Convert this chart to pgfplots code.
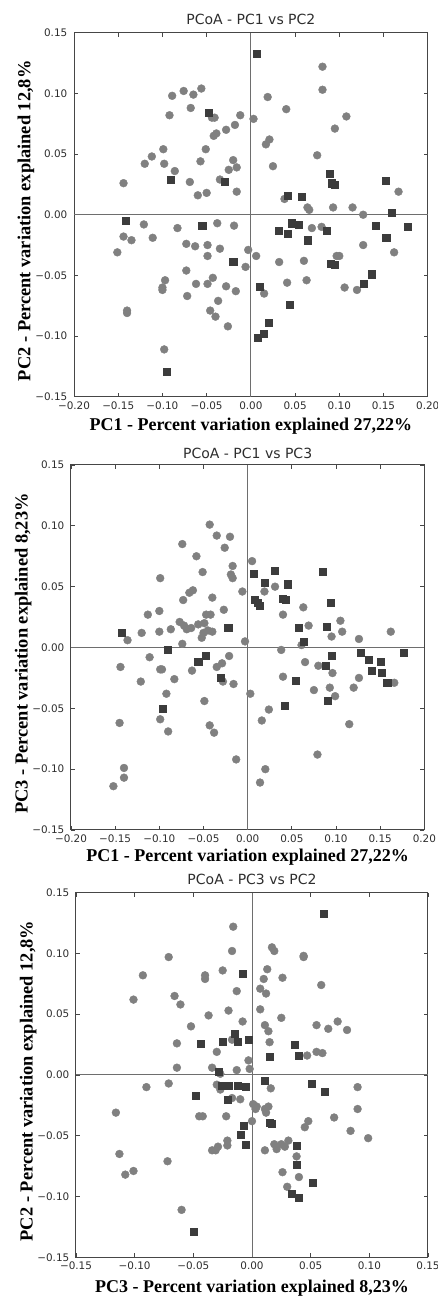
\documentclass[border=0pt]{standalone}
\usepackage{fontspec}
\setmainfont{Liberation Serif}
\newfontfamily\dejavu{DejaVu Sans}
\usepackage{pgfplots}
\usepackage{pgfplotstable}
\pgfplotsset{compat=1.18}
\definecolor{circc}{RGB}{128,128,128}
\definecolor{sqc}{RGB}{60,60,60}
\definecolor{framec}{RGB}{70,70,70}
\definecolor{zeroc}{RGB}{110,110,110}
\definecolor{tickc}{RGB}{45,45,45}

\pgfplotstableread{
x y
-0.144 0.026
-0.120 0.042
-0.112 0.048
-0.099 0.054
-0.098 0.042
-0.092 0.082
-0.089 0.098
-0.086 0.036
-0.076 0.102
-0.068 0.088
-0.069 0.027
-0.065 0.099
-0.060 0.016
-0.056 0.104
-0.057 0.044
-0.051 0.054
-0.050 0.018
-0.044 0.080
-0.041 0.080
-0.042 0.065
-0.039 0.067
-0.028 0.070
-0.035 0.029
-0.025 0.037
-0.020 0.045
-0.018 0.074
-0.016 0.039
-0.016 0.019
-0.012 0.082
0.003 0.079
0.019 0.097
0.021 0.062
0.017 0.058
0.025 0.040
0.040 0.087
0.038 0.013
0.064 0.006
0.066 0.004
0.075 0.049
0.081 0.122
0.081 0.103
0.095 0.071
0.093 0.006
0.108 0.081
0.115 0.006
0.127 0.000
0.167 0.019
-0.151 -0.031
-0.144 -0.018
-0.135 -0.021
-0.121 -0.008
-0.111 -0.019
-0.083 -0.011
-0.038 -0.007
-0.019 -0.009
-0.073 -0.024
-0.063 -0.026
-0.049 -0.025
-0.035 -0.028
-0.049 -0.034
-0.003 -0.029
0.006 -0.034
-0.006 -0.043
-0.073 -0.046
-0.097 -0.054
-0.100 -0.060
-0.100 -0.062
-0.062 -0.057
-0.049 -0.057
-0.043 -0.052
-0.028 -0.059
-0.017 -0.063
-0.072 -0.067
-0.037 -0.071
-0.046 -0.079
-0.040 -0.084
-0.026 -0.092
-0.140 -0.079
-0.140 -0.081
-0.098 -0.111
0.015 -0.065
0.032 -0.039
0.041 -0.056
0.060 -0.038
0.063 -0.054
0.069 -0.011
0.080 -0.010
0.097 -0.034
0.100 -0.034
0.106 -0.060
0.120 -0.062
0.127 -0.025
0.162 -0.031
}\pOneC

\pgfplotstableread{
x y
-0.091 0.029
-0.048 0.084
-0.030 0.027
0.007 0.133
0.042 0.016
0.058 0.015
0.089 0.034
0.091 0.026
0.095 0.025
0.152 0.028
0.159 0.002
-0.142 -0.005
-0.055 -0.009
-0.020 -0.039
-0.095 -0.129
0.010 -0.059
0.020 -0.089
0.014 -0.098
0.008 -0.101
0.031 -0.013
0.042 -0.016
0.044 -0.074
0.046 -0.007
0.054 -0.008
0.064 -0.021
0.086 -0.013
0.090 -0.040
0.095 -0.041
0.128 -0.057
0.137 -0.049
0.141 -0.009
0.153 -0.019
0.177 -0.010
}\pOneS

\pgfplotstableread{
x y
-0.136 0.006
-0.120 0.012
-0.113 0.027
-0.100 0.030
-0.100 0.013
-0.099 0.057
-0.087 0.015
-0.074 0.085
-0.073 0.039
-0.074 0.003
-0.077 0.021
-0.072 0.018
-0.069 0.015
-0.064 0.016
-0.066 0.045
-0.062 0.047
-0.058 0.075
-0.056 0.019
-0.051 0.062
-0.049 0.020
-0.052 0.008
-0.050 0.012
-0.047 0.027
-0.043 0.101
-0.042 0.027
-0.040 0.041
-0.045 0.014
-0.040 0.013
-0.035 0.092
-0.026 0.082
-0.027 0.031
-0.020 0.091
-0.019 0.060
-0.017 0.067
-0.017 0.057
-0.006 0.046
-0.003 0.005
0.005 0.071
0.019 0.046
0.031 0.050
0.040 0.027
0.063 0.033
0.069 0.018
0.061 0.002
0.095 0.009
0.105 0.022
0.107 0.013
0.126 0.007
0.162 0.013
-0.144 -0.016
-0.111 -0.008
-0.121 -0.028
-0.099 -0.018
-0.097 -0.018
-0.083 -0.026
-0.092 -0.038
-0.099 -0.059
-0.090 -0.069
-0.145 -0.062
-0.140 -0.099
-0.140 -0.107
-0.152 -0.114
-0.063 -0.019
-0.049 -0.044
-0.043 -0.064
-0.038 -0.070
-0.035 -0.016
-0.029 -0.013
-0.028 -0.028
-0.021 -0.007
-0.016 -0.030
-0.013 -0.092
0.003 -0.038
0.016 -0.060
0.024 -0.051
0.020 -0.100
0.014 -0.111
0.038 -0.002
0.040 -0.024
0.065 -0.012
0.075 -0.035
0.080 -0.015
0.096 -0.021
0.093 -0.033
0.099 -0.040
0.079 -0.088
0.115 -0.063
0.120 -0.033
0.126 -0.025
0.166 -0.029
}\pTwoC

\pgfplotstableread{
x y
-0.143 0.012
-0.022 0.016
0.007 0.061
0.008 0.039
0.011 0.037
0.014 0.034
0.019 0.053
0.031 0.063
0.040 0.040
0.043 0.039
0.045 0.052
0.058 0.016
0.063 0.005
0.085 0.062
0.094 0.037
0.089 0.017
-0.091 -0.002
-0.096 -0.050
-0.056 -0.012
-0.048 -0.007
-0.031 -0.025
0.042 -0.048
0.054 -0.027
0.088 -0.015
0.095 -0.007
0.091 -0.044
0.128 -0.004
0.137 -0.010
0.140 -0.019
0.151 -0.012
0.152 -0.021
0.158 -0.029
0.177 -0.004
}\pTwoS

\pgfplotstableread{
x y
-0.101 0.062
-0.093 0.082
-0.071 0.097
-0.066 0.065
-0.061 0.058
-0.064 0.026
-0.064 0.006
-0.052 0.040
-0.040 0.082
-0.040 0.079
-0.037 0.049
-0.030 0.019
-0.034 0.006
-0.027 0.001
-0.025 0.086
-0.017 0.029
-0.020 0.053
-0.016 0.122
-0.017 0.102
-0.013 0.069
-0.013 0.004
-0.008 0.044
-0.003 0.012
-0.002 0.005
0.007 0.054
0.007 0.071
0.011 0.041
0.010 0.079
0.012 0.067
0.014 0.036
0.015 0.027
0.013 0.087
0.017 0.105
0.019 0.102
0.026 0.080
0.025 0.047
0.047 0.016
0.044 0.098
0.044 0.097
0.055 0.041
0.055 0.019
0.060 0.018
0.059 0.074
0.065 0.038
0.073 0.044
0.081 0.037
-0.090 -0.010
-0.071 -0.007
-0.116 -0.031
-0.113 -0.065
-0.108 -0.082
-0.101 -0.079
-0.072 -0.071
-0.060 -0.111
-0.045 -0.034
-0.042 -0.034
-0.034 -0.062
-0.031 -0.062
-0.029 -0.059
-0.030 -0.008
-0.027 -0.012
-0.017 -0.019
-0.010 -0.020
-0.022 -0.034
-0.021 -0.054
-0.021 -0.058
0.000 -0.038
0.001 -0.024
0.003 -0.028
0.004 -0.026
0.011 -0.028
0.012 -0.031
0.014 -0.026
0.016 -0.011
0.011 -0.062
0.019 -0.057
0.021 -0.061
0.025 -0.057
0.028 -0.059
0.031 -0.054
0.026 -0.080
0.030 -0.092
0.038 -0.067
0.040 -0.084
0.045 -0.043
0.048 -0.038
0.070 -0.035
0.084 -0.046
0.090 -0.010
0.090 -0.028
0.099 -0.052
}\pThreeC

\pgfplotstableread{
x y
-0.044 0.026
-0.028 0.003
-0.025 0.027
-0.015 0.034
-0.012 0.027
-0.008 0.083
-0.003 0.029
0.015 0.015
0.036 0.025
0.040 0.016
0.061 0.133
-0.048 -0.017
-0.050 -0.129
-0.026 -0.009
-0.020 -0.009
-0.021 -0.020
-0.012 -0.009
-0.005 -0.010
-0.010 -0.049
-0.007 -0.042
-0.005 -0.057
0.011 -0.005
0.015 -0.039
0.017 -0.040
0.034 -0.098
0.040 -0.101
0.038 -0.058
0.038 -0.074
0.052 -0.089
0.051 -0.007
0.062 -0.014
}\pThreeS

\pgfplotsset{
  pcoa/.style={
    scale only axis,
    anchor=south west,
    axis line style={draw=framec, line width=0.75pt},
    tick style={draw=framec, line width=0.6pt},
    tick align=inside,
    major tick length=3pt,
    tick label style={font=\dejavu\fontsize{7.8}{9}\selectfont, text=tickc},
    yticklabel style={xshift=-1.5pt},
    ymin=-0.15, ymax=0.15,
    ytick={-0.15,-0.1,-0.05,0,0.05,0.1,0.15},
    yticklabels={−0.15,−0.10,−0.05,0.00,0.05,0.10,0.15},
    every axis title shift=0pt,
    title style={font=\dejavu\fontsize{10.5}{12}\selectfont, text=tickc,
      at={(axis description cs:0.5,1)}, anchor=base, yshift=5.8pt},
    xlabel style={font=\bfseries\fontsize{13.5}{15}\selectfont,
      at={(axis description cs:0.5,0)}, anchor=base, yshift=-25pt},
    ylabel style={font=\bfseries\fontsize{13.8}{16}\selectfont,
      at={(axis description cs:-0.123,0.4835)}, anchor=base},
    clip=false,
  },
  pc1x/.style={
    xmin=-0.2, xmax=0.2,
    xtick={-0.2,-0.15,-0.1,-0.05,0,0.05,0.1,0.15,0.2},
    xticklabels={−0.20,−0.15,−0.10,−0.05,0.00,0.05,0.10,0.15,0.20},
  },
  pc3x/.style={
    xmin=-0.15, xmax=0.15,
    xtick={-0.15,-0.1,-0.05,0,0.05,0.1,0.15},
    xticklabels={−0.15,−0.10,−0.05,0.00,0.05,0.10,0.15},
  },
  circs/.style={only marks, mark=*, mark size=2.95pt,
    mark options={fill=circc, draw=circc, line width=0.3pt}},
  sqs/.style={only marks, mark=square*, mark size=2.65pt,
    mark options={fill=sqc, draw=sqc, line width=0.3pt}},
  zl/.style={draw=zeroc, line width=0.7pt, mark=none},
}

\begin{document}
\begin{tikzpicture}
\useasboundingbox (0,0) rectangle (328.5pt,972.75pt);

\begin{axis}[pcoa, pc1x, at={(55.5pt,675.2pt)}, width=265.3pt, height=273pt,
  title={PCoA - PC1 vs PC2},
  xlabel={PC1 - Percent variation explained 27,22\%},
  ylabel={PC2 - Percent variation explained 12,8\%}]
\addplot[zl] coordinates {(-0.2,0) (0.2,0)};
\addplot[zl] coordinates {(0,-0.15) (0,0.15)};
\addplot[circs] table {\pOneC};
\addplot[sqs] table {\pOneS};
\end{axis}

\begin{axis}[pcoa, pc1x, at={(53.25pt,350.25pt)}, width=265pt, height=273.75pt,
  title={PCoA - PC1 vs PC3},
  title style={yshift=-1pt},
  xlabel style={yshift=1pt},
  xlabel={PC1 - Percent variation explained 27,22\%},
  ylabel={PC3 - Percent variation explained 8,23\%}]
\addplot[zl] coordinates {(-0.2,0) (0.2,0)};
\addplot[zl] coordinates {(0,-0.15) (0,0.15)};
\addplot[circs] table {\pTwoC};
\addplot[sqs] table {\pTwoS};
\end{axis}

\begin{axis}[pcoa, pc3x, at={(57pt,29.8pt)}, width=264pt, height=273.45pt,
  title={PCoA - PC3 vs PC2},
  xlabel style={yshift=-1.5pt},
  xlabel={PC3 - Percent variation explained 8,23\%},
  ylabel={PC2 - Percent variation explained 12,8\%}]
\addplot[zl] coordinates {(-0.15,0) (0.15,0)};
\addplot[zl] coordinates {(0,-0.15) (0,0.15)};
\addplot[circs] table {\pThreeC};
\addplot[sqs] table {\pThreeS};
\end{axis}
\end{tikzpicture}
\end{document}
